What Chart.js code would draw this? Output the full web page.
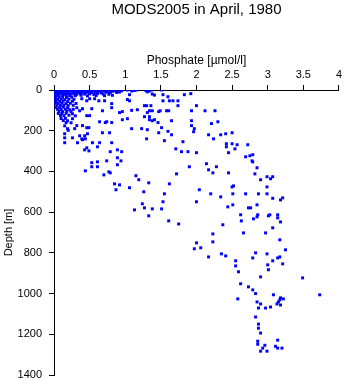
<!DOCTYPE html>
<html>
<head>
<meta charset="utf-8">
<script src="https://cdn.jsdelivr.net/npm/chart.js@4"></script>
<style>
  html, body { margin: 0; padding: 0; background: #fff; }
  canvas { display: block; }
</style>
</head>
<body>
<canvas id="profile" width="345" height="384"></canvas>
<script>
// [phosphate µmol/l, depth m]
var surfaceSamples = [
  [0.02,0],[0.06,1],[0.1,0],[0.14,2],[0.18,0],[0.22,1],[0.26,0],[0.3,2],[0.34,0],[0.38,1],[0.42,0],[0.46,2],[0.5,0],[0.55,1],[0.6,0],[0.64,2],[0.68,0],[0.72,1],[0.76,0],[0.8,2],[0.84,0],
  [0.03,6],[0.08,5],[0.12,7],[0.16,5],[0.2,6],[0.25,5],[0.29,7],[0.33,5],[0.37,6],[0.41,5],[0.45,7],[0.52,6],[0.57,5],[0.62,7],[0.66,6],[0.7,5],[0.75,8],[0.82,6],[0.86,5],
  [0.01,12],[0.05,13],[0.09,11],[0.13,12],[0.17,14],[0.21,12],[0.27,11],[0.31,13],[0.35,12],[0.39,14],[0.44,12],[0.48,11],[0.53,13],[0.58,12],[0.66,14],[0.73,11],[0.79,13],[0.88,12],
  [0.02,19],[0.06,20],[0.1,18],[0.15,21],[0.19,19],[0.24,20],[0.28,18],[0.32,21],[0.37,19],[0.43,20],[0.5,19],[0.56,22],[0.61,18],[0.69,20],[0.77,21],
  [0.03,27],[0.07,28],[0.12,26],[0.17,29],[0.22,27],[0.3,28],[0.38,26],[0.47,29],[0.59,27],[0.71,28],[0.82,26],
  [0.92,10],[0.95,4],[1.03,0],[1.09,5],[1.13,2],[1.16,0],[1.29,3],[1.31,9],[1.34,5],[1.37,0],[1.38,20],[1.41,25],
  [1.51,0],[1.53,23],[1.6,33],[1.83,23],[1.92,18],[1.06,23]
];

var upperSamples = [
  [0.02,35],[0.07,36],[0.12,34],[0.18,37],[0.25,35],
  [0.01,45],[0.05,46],[0.1,44],[0.15,47],[0.21,45],[0.28,46],[0.39,43],[0.46,53],[0.5,43],[0.57,43],[0.63,53],[0.71,53],
  [0.03,55],[0.08,56],[0.13,54],[0.19,57],[0.26,55],
  [0.02,65],[0.06,66],[0.11,64],[0.17,67],[0.23,65],[0.31,66],[0.81,67],
  [0.04,75],[0.09,76],[0.14,74],[0.2,77],[0.27,75],
  [0.03,85],[0.08,86],[0.13,84],[0.19,87],[0.32,87],[0.81,87],
  [0.05,95],[0.1,96],[0.16,94],[0.22,97],[0.27,95],[0.4,92],[0.53,92],[0.68,102],[0.36,102],
  [0.07,105],[0.12,106],[0.18,104],[0.24,107],
  [0.06,115],[0.11,116],[0.17,114],[0.26,117],[0.5,126],[0.46,126],
  [0.09,125],[0.14,126],[0.21,124],[0.3,127],
  [0.1,140],[0.16,139],[0.26,141],
  [0.13,150],[0.19,151],[0.64,156],[0.74,156],[0.81,160],[0.72,160],
  [0.17,160],[0.24,161],
  [0.32,175],[0.4,175],[0.46,185],[0.49,185],[0.15,176],
  [0.19,190],[0.29,190],[0.2,198],
  [0.15,215],[0.15,235],[0.26,235],[0.36,225],[0.43,225],[0.47,215],[0.39,240],[0.44,240],
  [0.54,259],[0.64,259],[0.68,210],[0.78,210],[0.81,259],[0.15,259],[0.33,259],[0.4,244],
  [0.46,284],[0.43,294],[0.49,299],[0.61,279],[0.79,303],[0.89,294],[0.95,303],
  [1.03,47],[1.06,53],[1.53,53],[1.62,53],[1.67,53],[1.74,53],[1.27,77],[1.3,77],[1.36,77],[1.74,77],[2.0,77],
  [0.92,111],[0.96,106],[1.09,100],[1.17,97],[1.34,102],[1.38,102],[1.49,102],[1.58,102],[1.61,102],[1.93,102],[2.12,102],[2.26,102],
  [1.27,131],[1.34,131],[1.31,111],[1.38,151],[1.46,160],[1.47,106],[1.34,146],[1.41,146],[1.65,151],[1.93,151],[2.21,165],[2.3,156],[1.03,141],[0.96,146],
  [1.51,185],[1.47,210],[1.6,203],[1.65,220],[1.93,175],[1.97,190],[1.96,205],[2.17,220],[2.24,240],[2.34,220],[2.41,215],[2.5,210],
  [1.55,249],[1.81,254],[2.42,264],[2.5,264],[2.57,269],[2.72,269],[1.71,289],[1.79,303],[1.88,303],[2.0,308],[2.45,308],[2.54,289],[2.42,279],
  [2.69,328],[2.75,323],[2.78,348],[1.09,190],[1.23,190],[1.31,195],[1.3,240]
];

var middleSamples = [
  [0.74,348],[0.89,333],[0.94,348],[0.89,367],[0.53,357],[0.61,353],[0.53,377],[0.61,377],[0.44,397],[0.77,402],[0.79,407],[0.7,417],
  [1.15,421],[1.19,441],[1.33,456],[0.85,461],[0.92,466],[0.87,490],[1.06,480],[1.26,500],[1.24,559],[1.27,579],[1.13,589],[1.33,618],
  [1.51,584],[1.38,584],[1.53,549],[1.55,510],[1.61,643],[1.75,658],[1.72,412],[1.62,461],[2.04,490],[2.0,549],[1.9,377],
  [2.14,362],[2.17,392],[2.28,377],[2.23,407],[2.45,407],[2.5,476],[2.52,471],[2.2,510],[2.34,525],[2.51,510],[2.69,510],
  [2.44,574],[2.51,564],[2.62,613],[2.73,579],
  [2.79,318],[2.79,353],[2.85,382],[2.82,412],[2.9,441],[2.99,426],[3.04,436],[3.07,426],[2.99,476],[2.87,510],[2.99,510],
  [3.07,532],[3.18,540],[3.21,530],[2.76,579],[2.85,564],[2.86,613],[3.03,613],[3.14,613]
];

var deepSamples = [
  [2.85,623],[3.01,618],[2.8,633],[3.14,628],[3.18,648],[2.63,643],[2.37,662],[3.07,677],[2.23,707],[2.66,702],[2.97,702],[3.17,736],
  [2.23,746],[2.0,751],[2.06,775],[1.97,780],[2.35,805],[2.41,815],[2.17,820],[2.83,800],[2.99,805],[3.25,785],[2.79,825],[3.14,825],[3.17,820],
  [3.07,839],[3.21,854],[3.0,859],[2.55,839],[2.55,864],[2.59,893],[3.01,883],[2.9,918],[2.62,952],[2.73,967],[2.79,982],[3.49,923],
  [2.83,1000],[3.08,1006],[3.73,1006],[2.58,1026],[3.18,1021],[3.22,1026],[2.85,1041],[2.9,1051],[2.87,1071],[2.97,1071],[3.04,1066],
  [3.13,1051],[3.15,1041],[3.18,1056],[3.17,1031],[2.83,1115],[2.87,1150],[2.87,1170],[2.9,1194],[3.14,1229],[2.86,1234],[2.86,1249],
  [2.96,1254],[3.11,1259],[3.14,1268],[3.2,1268],[2.93,1268],[2.9,1283],[2.99,1283]
];

var phosphateTicks = [0, 0.5, 1, 1.5, 2, 2.5, 3, 3.5, 4];
var depthTicks = [0, 200, 400, 600, 800, 1000, 1200, 1400];

var allSamples = surfaceSamples.concat(upperSamples, middleSamples, deepSamples);
var points = allSamples.map(function (s) { return { x: s[0], y: s[1] }; });

var fontFamily = '"Liberation Sans", Arial, Helvetica, sans-serif';

function plainLabel(value) { return String(value); }

// title centred over the plot area rather than the whole canvas
var plotTitle = {
  id: 'plotTitle',
  afterDraw: function (chart) {
    var ctx = chart.ctx;
    var area = chart.chartArea;
    ctx.save();
    ctx.font = '15px ' + fontFamily;
    ctx.fillStyle = '#000';
    ctx.textAlign = 'center';
    ctx.textBaseline = 'alphabetic';
    ctx.fillText('MODS2005 in April, 1980', (area.left + area.right) / 2, 14);
    ctx.restore();
  }
};

var ctx = document.getElementById('profile').getContext('2d');
var profileChart = new Chart(ctx, {
  type: 'scatter',
  data: {
    datasets: [{
      data: points,
      backgroundColor: '#0000ff',
      borderWidth: 0,
      pointStyle: 'rect',
      pointRadius: 2.1,
      pointHoverRadius: 2.1
    }]
  },
  plugins: [plotTitle],
  options: {
    responsive: false,
    animation: false,
    layout: { padding: { left: 0, top: 0, right: 0, bottom: 9 } },
    plugins: {
      legend: { display: false },
      tooltip: { enabled: false }
    },
    scales: {
      x: {
        type: 'linear',
        position: 'top',
        min: 0,
        max: 4,
        afterBuildTicks: function (scale) {
          scale.ticks = phosphateTicks.map(function (v) { return { value: v }; });
        },
        afterFit: function (scale) { scale.height = 90; },
        grid: { drawOnChartArea: false, drawTicks: true, tickLength: 5, color: '#000' },
        border: { display: true, color: '#000', width: 1 },
        ticks: { color: '#000', padding: 3, maxRotation: 0, callback: plainLabel, font: { family: fontFamily, size: 11 } },
        title: {
          display: true,
          text: 'Phosphate [µmol/l]',
          color: '#000',
          font: { family: fontFamily, size: 12 },
          padding: { top: 53, bottom: 0 }
        }
      },
      y: {
        type: 'linear',
        reverse: true,
        min: 0,
        max: 1400,
        afterBuildTicks: function (scale) {
          scale.ticks = depthTicks.map(function (v) { return { value: v }; });
        },
        afterFit: function (scale) {
          scale.width = 54;
          // keep the label gap from eating into the plot height
          scale.paddingTop = 0;
          scale.paddingBottom = 0;
        },
        grid: { drawOnChartArea: false, drawTicks: true, tickLength: 5, color: '#000' },
        border: { display: true, color: '#000', width: 1 },
        ticks: { color: '#000', padding: 7, callback: plainLabel, font: { family: fontFamily, size: 11 } },
        title: {
          display: true,
          text: 'Depth [m]',
          color: '#000',
          font: { family: fontFamily, size: 11 },
          padding: { top: 2, bottom: 0 }
        }
      }
    }
  }
});
</script>
</body>
</html>
